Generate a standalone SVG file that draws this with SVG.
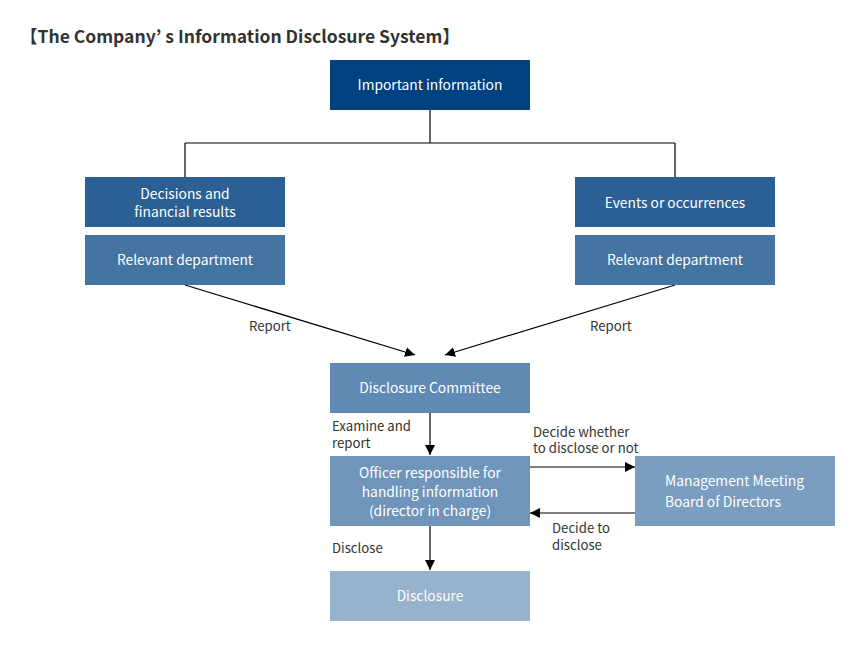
<svg xmlns="http://www.w3.org/2000/svg" width="861" height="664" viewBox="0 0 861 664">
<defs>
<marker id="ah" viewBox="0 0 10 10" refX="10" refY="5" markerWidth="10" markerHeight="10" markerUnits="userSpaceOnUse" orient="auto">
<path d="M0,0 L10,5 L0,10 z" fill="#000"/>
</marker>
<style>
.n{font-family:"Noto Sans CJK JP","Noto Sans",sans-serif;font-size:13.8px;fill:#fff;text-anchor:middle}
.s{text-anchor:start}
.l{font-family:"Noto Sans CJK JP","Noto Sans",sans-serif;font-size:13.2px;fill:#333}
.c{fill:none;stroke:#000;stroke-width:1.2}
</style>
</defs>
<rect width="861" height="664" fill="#fff"/>
<text x="20" y="43" font-family="'Noto Sans CJK JP','Noto Sans',sans-serif" font-size="17.5" font-weight="bold" fill="#333">【The Company’ s Information Disclosure System】</text>
<g id="connectors">
<path class="c" d="M430,110 V143 M185,143 H675 M185,143 V177 M675,143 V177"/>
<line class="c" x1="185" y1="285" x2="415" y2="355" marker-end="url(#ah)"/>
<line class="c" x1="675" y1="285" x2="445" y2="355" marker-end="url(#ah)"/>
<line class="c" x1="430" y1="413" x2="430" y2="455" marker-end="url(#ah)"/>
<line class="c" x1="530" y1="467" x2="635" y2="467" marker-end="url(#ah)"/>
<line class="c" x1="635" y1="513" x2="530" y2="513" marker-end="url(#ah)"/>
<line class="c" x1="430" y1="526" x2="430" y2="570" marker-end="url(#ah)"/>
<text class="l" x="249" y="331">Report</text>
<text class="l" x="590" y="331">Report</text>
<text class="l" x="332" y="431">Examine and</text>
<text class="l" x="332" y="448">report</text>
<text class="l" x="533" y="437">Decide whether</text>
<text class="l" x="533" y="453">to disclose or not</text>
<text class="l" x="552" y="533">Decide to</text>
<text class="l" x="552" y="550">disclose</text>
<text class="l" x="332" y="553">Disclose</text>
</g>
<g id="important"><rect x="330" y="60" width="200" height="50" fill="#00427f"/><text class="n" x="430" y="90">Important information</text></g>
<g id="decisions"><rect x="85" y="177" width="200" height="50" fill="#2a6094"/><text class="n" x="185" y="199">Decisions and</text><text class="n" x="185" y="217">financial results</text></g>
<g id="dept-left"><rect x="85" y="235" width="200" height="50" fill="#4474a1"/><text class="n" x="185" y="265">Relevant department</text></g>
<g id="events"><rect x="575" y="177" width="200" height="50" fill="#2a6094"/><text class="n" x="675" y="208">Events or occurrences</text></g>
<g id="dept-right"><rect x="575" y="235" width="200" height="50" fill="#4474a1"/><text class="n" x="675" y="265">Relevant department</text></g>
<g id="committee"><rect x="330" y="363" width="200" height="50" fill="#5f8ab3"/><text class="n" x="430" y="393">Disclosure Committee</text></g>
<g id="officer"><rect x="330" y="456" width="200" height="70" fill="#6f95bb"/><text class="n" x="430" y="478">Officer responsible for</text><text class="n" x="430" y="497">handling information</text><text class="n" x="430" y="516">(director in charge)</text></g>
<g id="management"><rect x="635" y="456" width="200" height="70" fill="#7a9dc0"/><text class="n s" x="665" y="486">Management Meeting</text><text class="n s" x="665" y="507">Board of Directors</text></g>
<g id="disclosure"><rect x="330" y="571" width="200" height="50" fill="#97b2cc"/><text class="n" x="430" y="601">Disclosure</text></g>
</svg>
